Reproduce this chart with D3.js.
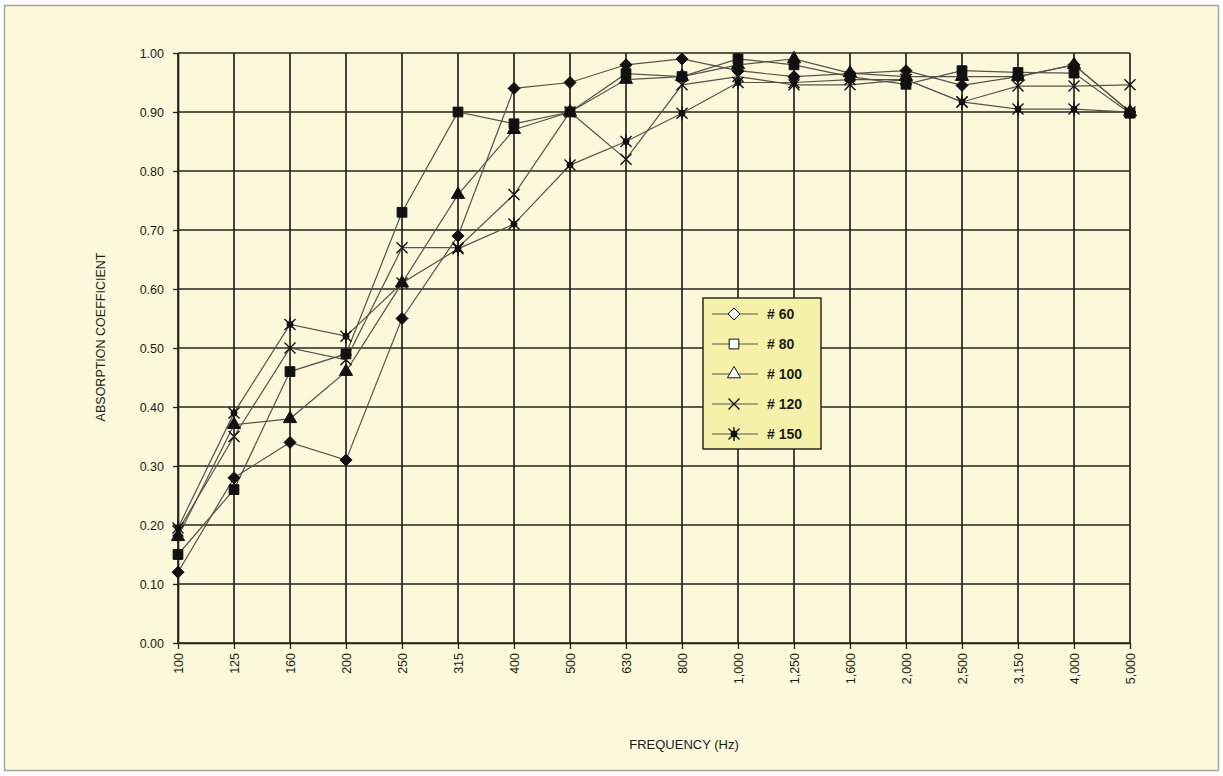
<!DOCTYPE html>
<html>
<head>
<meta charset="utf-8">
<script src="https://cdn.jsdelivr.net/npm/d3@7"></script>
<style>
  html, body { margin: 0; padding: 0; background: #ffffff; }
  svg { display: block; }
  text { font-family: "Liberation Sans", Arial, sans-serif; fill: #1c1c14; }
</style>
</head>
<body>
<svg id="chart" width="1223" height="776"></svg>
<script>
const frequencies = ["100","125","160","200","250","315","400","500","630","800","1,000","1,250","1,600","2,000","2,500","3,150","4,000","5,000"];
const yTicks = [0, 0.1, 0.2, 0.3, 0.4, 0.5, 0.6, 0.7, 0.8, 0.9, 1.0];
const seriesNames = ["# 60", "# 80", "# 100", "# 120", "# 150"];
const s60  = [0.12, 0.28, 0.34, 0.31, 0.55, 0.69, 0.94, 0.95, 0.98, 0.99, 0.97, 0.96, 0.965, 0.97, 0.945, 0.96, 0.98, 0.90];
const s80  = [0.15, 0.26, 0.46, 0.49, 0.73, 0.90, 0.88, 0.90, 0.965, 0.96, 0.99, 0.98, 0.96, 0.947, 0.97, 0.967, 0.966, 0.898];
const s100 = [0.18, 0.37, 0.38, 0.46, 0.61, 0.76, 0.87, 0.90, 0.955, 0.96, 0.98, 0.99, 0.966, 0.96, 0.96, 0.96, 0.98, 0.90];
const s120 = [0.19, 0.35, 0.50, 0.48, 0.67, 0.67, 0.76, 0.90, 0.82, 0.946, 0.96, 0.946, 0.946, 0.955, 0.917, 0.944, 0.944, 0.946];
const s150 = [0.195, 0.39, 0.54, 0.52, 0.61, 0.668, 0.71, 0.81, 0.85, 0.898, 0.95, 0.95, 0.955, 0.955, 0.917, 0.905, 0.905, 0.90];
const seriesValues = [s60, s80, s100, s120, s150];
const markerTypes = ["diamond", "square", "triangle", "cross", "star"];

const svg = d3.select("#chart");

// page background and frame
svg.append("rect").attr("x", 4.5).attr("y", 5.5).attr("width", 1214).attr("height", 765)
  .attr("fill", "#fbf8dc").attr("stroke", "#a9a79a").attr("stroke-width", 1.5);

const x = d3.scalePoint().domain(frequencies).range([178, 1130]);
const y = d3.scaleLinear().domain([0, 1]).range([643, 53]);

const gridColor = "#26251a";

// horizontal grid
svg.append("g").selectAll("line").data(yTicks).join("line")
  .attr("x1", x.range()[0]).attr("x2", x.range()[1])
  .attr("y1", d => y(d)).attr("y2", d => y(d))
  .attr("stroke", gridColor).attr("stroke-width", 1.7);

// vertical grid
svg.append("g").selectAll("line").data(frequencies).join("line")
  .attr("x1", d => x(d)).attr("x2", d => x(d))
  .attr("y1", y(1)).attr("y2", y(0))
  .attr("stroke", gridColor).attr("stroke-width", 1.7);

// axes
const xAxis = d3.axisBottom(x).tickSize(6).tickSizeOuter(0);
const gx = svg.append("g").attr("transform", `translate(0,${y(0)})`).call(xAxis);
gx.select(".domain").attr("stroke", gridColor).attr("stroke-width", 1.7);
gx.selectAll(".tick line").attr("stroke", gridColor).attr("stroke-width", 1.3);
gx.selectAll(".tick text")
  .attr("transform", "rotate(-90)")
  .attr("text-anchor", "end")
  .attr("x", -10).attr("y", 0).attr("dy", "0.35em")
  .style("font-size", "12.5px").style("font-family", "'Liberation Sans', Arial, sans-serif").attr("fill", "#1c1c14");

const yAxis = d3.axisLeft(y).tickValues(yTicks).tickFormat(d3.format(".2f")).tickSize(5).tickSizeOuter(0);
const gy = svg.append("g").attr("transform", `translate(${x.range()[0]},0)`).call(yAxis);
gy.select(".domain").attr("stroke", gridColor).attr("stroke-width", 1.7);
gy.selectAll(".tick line").attr("stroke", gridColor).attr("stroke-width", 1.3);
gy.selectAll(".tick text").attr("x", -14)
  .style("font-size", "12.5px").style("font-family", "'Liberation Sans', Arial, sans-serif").attr("fill", "#1c1c14");

// axis titles
svg.append("text").attr("transform", "translate(105,337) rotate(-90)")
  .attr("text-anchor", "middle").style("font-size", "12.5px").text("ABSORPTION COEFFICIENT");
svg.append("text").attr("x", 684).attr("y", 749)
  .attr("text-anchor", "middle").style("font-size", "13px").text("FREQUENCY (Hz)");

// marker drawing
function drawMarker(g, type, cx, cy, fill) {
  const s = g.append("g").attr("transform", `translate(${cx},${cy})`);
  if (type === "diamond") {
    s.append("path").attr("d", "M0,-6L6,0L0,6L-6,0Z")
      .attr("fill", fill).attr("stroke", "#111").attr("stroke-width", 1);
  } else if (type === "square") {
    s.append("path").attr("d", d3.symbol(d3.symbolSquare, 95)())
      .attr("fill", fill).attr("stroke", "#111").attr("stroke-width", 1);
  } else if (type === "triangle") {
    s.append("path").attr("d", d3.symbol(d3.symbolTriangle, 75)())
      .attr("fill", fill).attr("stroke", "#111").attr("stroke-width", 1);
  } else if (type === "cross") {
    s.append("path").attr("d", "M-5.5,-5.5L5.5,5.5M-5.5,5.5L5.5,-5.5")
      .attr("fill", "none").attr("stroke", "#111").attr("stroke-width", 1.4);
  } else if (type === "star") {
    s.append("path").attr("d", "M-5.5,-5.5L5.5,5.5M-5.5,5.5L5.5,-5.5M0,-7L0,7")
      .attr("fill", "none").attr("stroke", "#111").attr("stroke-width", 1.4);
    s.append("circle").attr("r", 3.4).attr("fill", "#111");
  }
}

const line = d3.line().x((d, i) => x(frequencies[i])).y(d => y(d));
const plot = svg.append("g");
seriesValues.forEach((vals, k) => {
  plot.append("path").datum(vals).attr("d", line)
    .attr("fill", "none").attr("stroke", "#56544a").attr("stroke-width", 1.2);
});
seriesValues.forEach((vals, k) => {
  vals.forEach((v, i) => drawMarker(plot, markerTypes[k], x(frequencies[i]), y(v), "#111"));
});

// legend
const lg = svg.append("g");
lg.append("rect").attr("x", 703).attr("y", 298).attr("width", 118).attr("height", 151)
  .attr("fill", "#f6f0aa").attr("stroke", "#2b2a1e").attr("stroke-width", 1.5);
seriesNames.forEach((name, k) => {
  const cy = 314 + k * 30;
  lg.append("line").attr("x1", 712).attr("x2", 758).attr("y1", cy).attr("y2", cy)
    .attr("stroke", "#56544a").attr("stroke-width", 1.2);
  drawMarker(lg, markerTypes[k], 734, cy, "#ffffff");
  lg.append("text").attr("x", 767).attr("y", cy).attr("dy", "0.36em")
    .style("font-size", "14px").style("font-weight", "bold").text(name);
});
</script>
</body>
</html>
